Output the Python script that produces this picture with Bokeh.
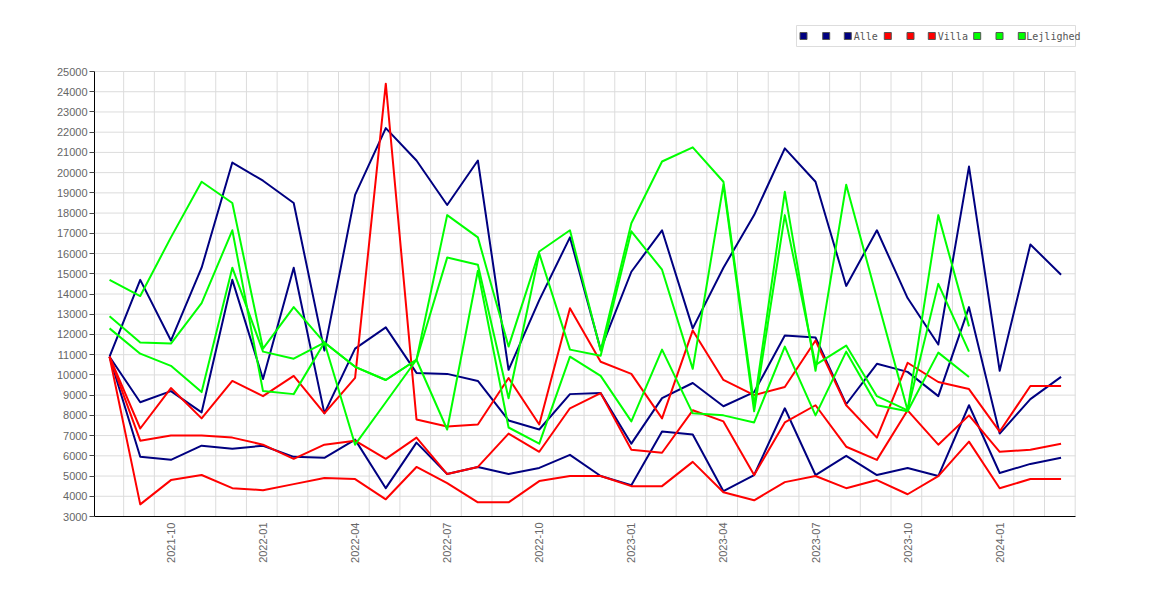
import math
from bokeh.plotting import figure
from bokeh.models import Range1d, FixedTicker
from bokeh.core.properties import value
from bokeh.embed import file_html
from bokeh.resources import INLINE

NaN = float("nan")

months = ["2021-08", "2021-09", "2021-10", "2021-11", "2021-12",
          "2022-01", "2022-02", "2022-03", "2022-04", "2022-05", "2022-06",
          "2022-07", "2022-08", "2022-09", "2022-10", "2022-11", "2022-12",
          "2023-01", "2023-02", "2023-03", "2023-04", "2023-05", "2023-06",
          "2023-07", "2023-08", "2023-09", "2023-10", "2023-11", "2023-12",
          "2024-01", "2024-02", "2024-03"]

alle_1 = [10900, 14700, 11700, 15300, 20500, 19600, 18500, 11200, 18900, 22200,
          20600, 18400, 20600, 10250, 13700, 16800, 11250, 15100, 17150, 12300,
          15300, 17900, 21200, 19550, 14400, 17150, 13800, 11500, 20300, 10200,
          16450, 14950]
alle_2 = [10900, 8650, 9200, 8150, 14700, 9800, 15300, 8100, 11300, 12350,
          10100, 10050, 9700, 7750, 7300, 9050, 9100, 6600, 8850, 9600,
          8450, 9150, 11950, 11850, 8550, 10550, 10150, 8950, 13350, 7100,
          8800, 9900]
alle_3 = [10900, 5950, 5800, 6500, 6350, 6500, 5950, 5900, 6800, 4400,
          6650, 5100, 5450, 5100, 5400, 6050, 5000, 4550, 7200, 7050,
          4250, 5050, 8350, 5050, 6000, 5050, 5400, 5000, 8500, 5150,
          5600, 5900]

villa_1 = [10900, 7350, 9350, 7850, 9700, 8950, 9950, 8100, 9850, 24400,
           7800, 7450, 7550, 9850, 7550, 13300, 10650, 10050, 7850, 12200,
           9750, 9000, 9400, 11700, 8500, 6900, 10600, 9650, 9300, 7200,
           9450, 9450]
villa_2 = [10900, 6750, 7000, 7000, 6900, 6550, 5850, 6550, 6750, 5850,
           6900, 5100, 5450, 7100, 6200, 8350, 9100, 6300, 6150, 8250,
           7700, 5050, 7650, 8500, 6450, 5800, 8250, 6550, 8000, 6200,
           6300, 6600]
villa_3 = [10900, 3600, 4800, 5050, 4400, 4300, 4600, 4900, 4850, 3850,
           5450, 4650, 3700, 3700, 4750, 5000, 5000, 4500, 4500, 5700,
           4200, 3800, 4700, 5000, 4400, 4800, 4100, 5000, 6700, 4400,
           4850, 4850]

lejl_1 = [14700, 13900, 16800, 19550, 18500, 11300, 13350, 11600, 10400, 9750,
          10750, 17900, 16800, 11400, 16100, 17150, 11200, 17500, 20550, 21250,
          19550, 8500, 19050, 10200, 19400, 13800, 8250, 17900, 12400, NaN,
          NaN, NaN]
lejl_2 = [12900, 11600, 11550, 13550, 17150, 9200, 9050, 11600, 10400, 9750,
          10750, 15800, 15450, 8850, 16000, 11250, 10950, 17100, 15200, 10300,
          19400, 8200, 17900, 10500, 11450, 8950, 8250, 14500, 11150, NaN,
          NaN, NaN]
lejl_3 = [12300, 11050, 10450, 9150, 15300, 11150, 10800, 11600, 6550, 8650,
          10750, 7300, 15150, 7400, 6600, 10900, 9950, 7700, 11250, 8100,
          8000, 7650, 11400, 8000, 11150, 8500, 8200, 11100, 9900, NaN,
          NaN, NaN]

y_ticks = list(range(3000, 25001, 1000))
label_months = ["2021-10", "2022-01", "2022-04", "2022-07", "2022-10",
                "2023-01", "2023-04", "2023-07", "2023-10", "2024-01"]

groups = [("Alle", "#000080", [alle_1, alle_2, alle_3]),
          ("Villa", "#ff0000", [villa_1, villa_2, villa_3]),
          ("Lejlighed", "#00ff00", [lejl_1, lejl_2, lejl_3])]

x = list(range(len(months)))

# ---- geometry (page pixels) ----
W, H = 1160, 584
X0, X1 = -0.49, 31.47          # visible chart x extent
Y0, Y1 = 3000, 25000           # visible chart y extent
PL, PR_CHART, PR_FRAME = 95, 1076, 1100
PB, PT_CHART, PT_FRAME = 517, 72, 14
xs = (PR_CHART - PL) / (X1 - X0)
ys = (PB - PT_CHART) / (Y1 - Y0)


def px2x(px):
    return X0 + (px - PL) / xs


def py2y(py):
    return Y0 + (PB - py) / ys


p = figure(width=W, height=H, output_backend="svg", toolbar_location=None,
           x_range=Range1d(X0, px2x(PR_FRAME)), y_range=Range1d(Y0, py2y(PT_FRAME)),
           min_border_left=PL - 1, min_border_right=W - (PR_FRAME - 1),
           min_border_top=PT_FRAME - 1, min_border_bottom=H - (PB - 1))
p.outline_line_color = None
p.background_fill_color = "white"
p.border_fill_color = "white"
p.xgrid.visible = False
p.ygrid.visible = False

# grid lines limited to the chart area
vg = [i + 0.46 for i in range(-1, len(months)) if X0 <= i + 0.46 <= X1]
p.segment(x0=vg, x1=vg, y0=[Y0] * len(vg), y1=[Y1] * len(vg),
          line_color="#dcdcdc", line_width=1)
p.segment(x0=[X0] * len(y_ticks), x1=[X1] * len(y_ticks), y0=y_ticks, y1=y_ticks,
          line_color="#dcdcdc", line_width=1)

p.yaxis.ticker = FixedTicker(ticks=y_ticks)
p.yaxis.bounds = (Y0, Y1)
p.yaxis.axis_line_color = "black"
p.yaxis.major_tick_line_color = "#444444"
p.yaxis.major_tick_out = 5
p.yaxis.major_tick_in = 0
p.yaxis.minor_tick_line_color = None
p.yaxis.major_label_standoff = 2
p.yaxis.major_label_text_font = "Liberation Sans"
p.yaxis.major_label_text_font_size = "11px"
p.yaxis.major_label_text_color = "#666666"

tick_pos = [months.index(m) for m in label_months]
p.xaxis.ticker = FixedTicker(ticks=tick_pos)
p.xaxis.bounds = (X0, X1)
p.xaxis.major_label_overrides = {t: m for t, m in zip(tick_pos, label_months)}
p.xaxis.major_label_orientation = math.pi / 2
p.xaxis.axis_line_color = "black"
p.xaxis.major_tick_line_color = None
p.xaxis.major_tick_out = 0
p.xaxis.major_tick_in = 0
p.xaxis.minor_tick_line_color = None
p.xaxis.major_label_standoff = 6
p.xaxis.major_label_text_font = "Liberation Sans"
p.xaxis.major_label_text_font_size = "11px"
p.xaxis.major_label_text_color = "#666666"

for name, color, series in groups:
    for s in series:
        p.line(x, s, line_color=color, line_width=2, line_join="round")

# ---- legend strip above the chart ----
p.quad(left=[px2x(797)], right=[px2x(1076)], top=[py2y(26)], bottom=[py2y(47)],
       fill_color="white", line_color="#dddddd", line_width=1)
sq_px = [804, 826.7, 848.3, 888.3, 911, 932.3, 977.7, 1000, 1022.3]
sq_c = []
for name, color, series in groups:
    sq_c += [color] * 3
p.scatter([px2x(v) for v in sq_px], [py2y(36.5)] * 9, marker="square", size=7,
          fill_color=sq_c, line_color="#555555", line_width=1)
p.text([px2x(sq_px[2] + 6), px2x(sq_px[5] + 6), px2x(sq_px[8] + 4.5)],
       [py2y(37)] * 3, text=[g[0] for g in groups],
       text_font=value("DejaVu Sans Mono"), text_font_size="10px",
       text_color="#555555", text_baseline="middle", text_align="left")

open("out.html", "w").write(file_html(p, INLINE))
